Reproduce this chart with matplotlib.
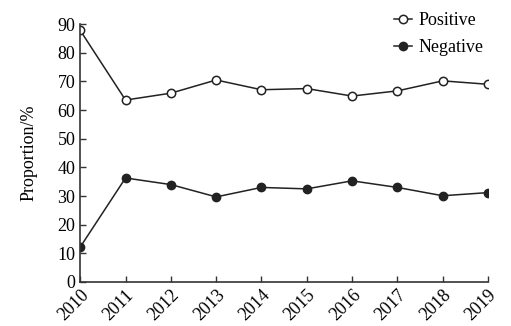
import numpy as np
import matplotlib.pyplot as plt

plt.rcParams['font.family'] = ['Liberation Serif', 'DejaVu Serif']

years = [2010, 2011, 2012, 2013, 2014, 2015, 2016, 2017, 2018, 2019]
positive = [87.8, 63.5, 65.9, 70.5, 67.1, 67.5, 64.9, 66.7, 70.2, 69.0]
negative = [12.2, 36.3, 34.0, 29.7, 33.0, 32.5, 35.3, 33.0, 30.1, 31.2]

fig = plt.figure(figsize=(5.11, 3.26), dpi=100)
ax = fig.add_axes([0.157, 0.135, 0.798, 0.791])

ax.plot(years, positive, '-o', color='#222222', mfc='white', mec='#222222',
        ms=6, lw=1.1, mew=1.1, label='Positive')
ax.plot(years, negative, '-o', color='#222222', mfc='#222222', mec='#222222',
        ms=6, lw=1.1, label='Negative')

ax.set_xlim(2010, 2019)
ax.set_ylim(0, 90)
ax.set_xticks(years)
ax.set_yticks(np.arange(0, 91, 10))
ax.set_xticklabels([str(y) for y in years], rotation=45, ha='right',
                   rotation_mode='anchor', fontsize=13)
ax.tick_params(axis='y', labelsize=13)
ax.tick_params(direction='in', length=4, width=1, color='#333333')
for s in ['top', 'right']:
    ax.spines[s].set_visible(False)
for s in ['left', 'bottom']:
    ax.spines[s].set_linewidth(1.2)
    ax.spines[s].set_color('#333333')

ax.set_ylabel('Proportion/%', fontsize=13, labelpad=14)

ax.legend(loc='upper right', bbox_to_anchor=(1.03, 1.11), frameon=False,
          fontsize=13, handlelength=1.0, handletextpad=0.4, labelspacing=0.55)

fig.savefig('out.png', dpi=100)
